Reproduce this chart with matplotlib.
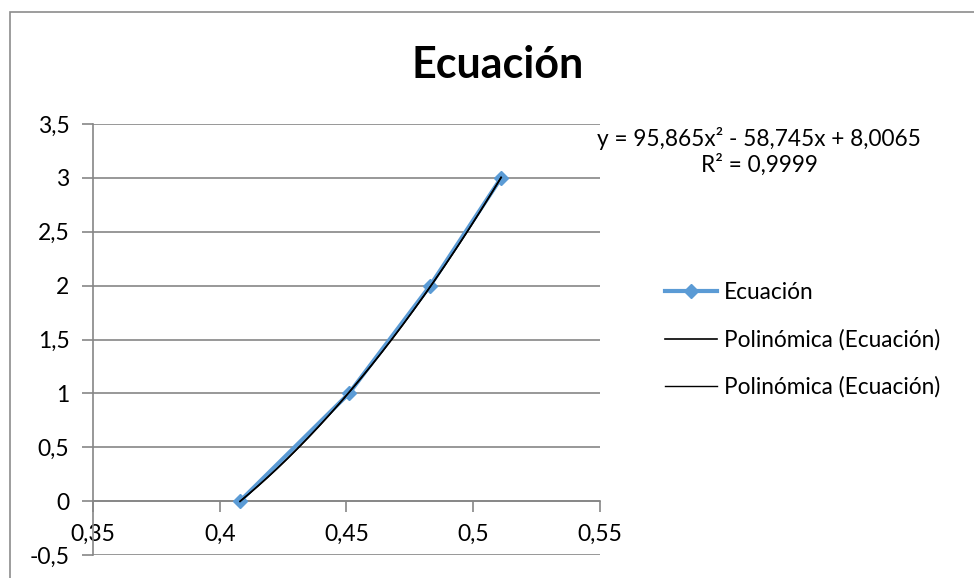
import matplotlib.pyplot as plt
from matplotlib.ticker import FuncFormatter
from matplotlib.patches import Rectangle
import numpy as np

plt.rcParams['font.family'] = ['Lato', 'DejaVu Sans']

x_vals = [0.408, 0.451, 0.483, 0.511]
y_vals = [0, 1, 2, 3]
x_ticks = [0.35, 0.40, 0.45, 0.50, 0.55]
y_ticks = [-0.5, 0, 0.5, 1, 1.5, 2, 2.5, 3, 3.5]
eq_label = 'y = 95,865x² - 58,745x + 8,0065\nR² = 0,9999'

blue = '#5B9BD5'
grey = '#868686'

fig = plt.figure(figsize=(9.74, 5.78), dpi=100)
fig.patches.append(Rectangle((9.5 / 974, -0.1), 2, 1 - 11.5 / 578 + 0.1,
                             transform=fig.transFigure, fill=False,
                             edgecolor='#8c8c8c', lw=1.2))
ax = fig.add_axes([93 / 974, 1 - 555 / 578, (600 - 93) / 974, (555 - 124) / 578])

# fitted trendline (2nd order), drawn twice like the source
coef = np.polyfit(x_vals, y_vals, 2)
xs = np.linspace(min(x_vals), max(x_vals), 200)
ax.plot(x_vals, y_vals, color=blue, lw=3, marker='D', ms=7, label='Ecuación', zorder=3)
ax.plot(xs, np.polyval(coef, xs), color='black', lw=1.2, label='Polinómica (Ecuación)', zorder=4)
ax.plot(xs, np.polyval(coef, xs), color='black', lw=1.0, label='Polinómica (Ecuación)', zorder=4)

ax.set_xlim(0.35, 0.55)
ax.set_ylim(-0.5, 3.5)
ax.set_xticks(x_ticks)
ax.set_yticks(y_ticks)
fmt = FuncFormatter(lambda v, p: ('%g' % round(v, 2)).replace('.', ','))
ax.xaxis.set_major_formatter(fmt)
ax.yaxis.set_major_formatter(fmt)

ax.grid(axis='y', color=grey, lw=1.2)
ax.set_axisbelow(True)
for s in ['top', 'right']:
    ax.spines[s].set_visible(False)
ax.spines['bottom'].set_position(('data', 0))
ax.spines['bottom'].set_color(grey)
ax.spines['left'].set_color(grey)
ax.spines['bottom'].set_linewidth(1.2)
ax.spines['left'].set_linewidth(1.2)
ax.tick_params(axis='both', direction='out', length=8, color=grey, width=1.2,
               labelsize=16.5, labelcolor='black')
ax.tick_params(axis='x', pad=8)
ax.tick_params(axis='y', pad=9)

fig.text(498 / 974, 1 - 65 / 578, 'Ecuación', ha='center', va='center',
         fontsize=31, fontweight='bold')
fig.text(759 / 974, 1 - 151 / 578, eq_label, ha='center', va='center',
         fontsize=16.3, linespacing=1.2)

leg = ax.legend(loc='center left', bbox_to_anchor=(645 / 974, 1 - 340 / 578),
                bbox_transform=fig.transFigure, frameon=False, fontsize=16.3,
                handlelength=2.3, handletextpad=0.3, labelspacing=1.15)

fig.savefig('out.png', dpi=100)
